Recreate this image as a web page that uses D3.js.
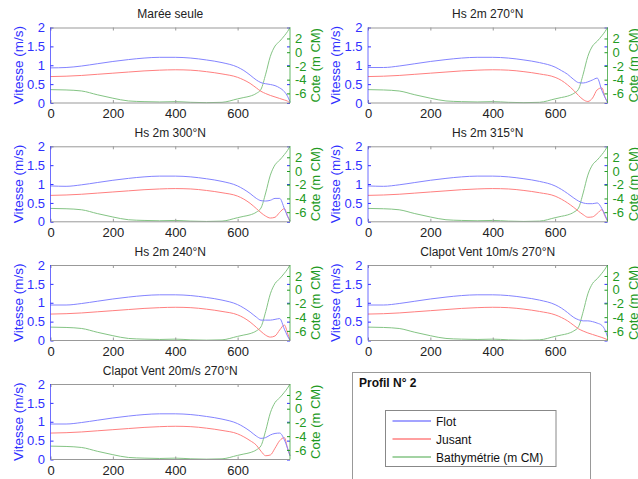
<!DOCTYPE html>
<html lang="fr">
<head>
<meta charset="utf-8">
<title>Profil N° 2</title>
<script src="https://d3js.org/d3.v7.min.js"></script>
<style>
  body { margin: 0; background: #fff; }
  text { font-family: "Liberation Sans", Arial, sans-serif; }
</style>
</head>
<body>
<script>
// distance along profile (m)
var dist = [0, 50, 100, 150, 200, 250, 300, 350, 400, 450, 500, 550, 600, 620, 640, 660, 675, 690, 705, 720, 735, 750, 760, 768];

// bathymetry (m CM), same for all panels
var bathy = [-5.45, -5.5, -5.65, -6.2, -6.7, -7.1, -7.2, -7.25, -7.2, -7.3, -7.35, -7.3, -6.8, -6.6, -6.4, -6.0, -5.4, -3.2, -0.6, 0.9, 1.6, 2.4, 3.0, 3.6];

var titles = ["Marée seule", "Hs 2m 270°N", "Hs 2m 300°N", "Hs 2m 315°N",
              "Hs 2m 240°N", "Clapot Vent 10m/s 270°N", "Clapot Vent 20m/s 270°N"];

// flot (flood) speeds, m/s
var flot1 = [0.93, 0.94, 0.98, 1.04, 1.10, 1.15, 1.19, 1.21, 1.21, 1.19, 1.14, 1.07, 0.95, 0.86, 0.74, 0.61, 0.54, 0.51, 0.49, 0.46, 0.40, 0.30, 0.18, 0.03];
var flot2 = [0.94, 0.94, 0.98, 1.04, 1.10, 1.15, 1.19, 1.21, 1.21, 1.19, 1.14, 1.07, 0.95, 0.86, 0.76, 0.62, 0.54, 0.53, 0.56, 0.61, 0.66, 0.33, 0.15, 0.02];
var flot3 = [0.95, 0.94, 0.98, 1.04, 1.10, 1.15, 1.19, 1.21, 1.21, 1.19, 1.14, 1.07, 0.95, 0.86, 0.75, 0.62, 0.56, 0.55, 0.57, 0.62, 0.62, 0.35, 0.15, 0.02];
var flot4 = [0.95, 0.94, 0.98, 1.04, 1.10, 1.15, 1.19, 1.21, 1.21, 1.19, 1.14, 1.07, 0.95, 0.86, 0.75, 0.63, 0.55, 0.50, 0.48, 0.48, 0.50, 0.35, 0.18, 0.03];
var flot5 = [0.94, 0.94, 0.98, 1.04, 1.10, 1.15, 1.19, 1.21, 1.21, 1.19, 1.14, 1.07, 0.95, 0.86, 0.75, 0.62, 0.54, 0.54, 0.54, 0.56, 0.58, 0.30, 0.12, 0.0];
var flot6 = [0.94, 0.94, 0.98, 1.04, 1.10, 1.15, 1.19, 1.21, 1.21, 1.19, 1.14, 1.07, 0.95, 0.86, 0.74, 0.61, 0.55, 0.52, 0.52, 0.50, 0.46, 0.40, 0.28, 0.10];
var flot7 = [0.94, 0.94, 0.98, 1.04, 1.10, 1.15, 1.19, 1.21, 1.21, 1.19, 1.14, 1.07, 0.95, 0.86, 0.75, 0.62, 0.56, 0.58, 0.65, 0.69, 0.70, 0.52, 0.30, 0.10];

// jusant (ebb) speeds, m/s
var jus1 = [0.70, 0.71, 0.73, 0.76, 0.79, 0.82, 0.85, 0.87, 0.88, 0.87, 0.83, 0.77, 0.68, 0.61, 0.52, 0.40, 0.31, 0.25, 0.20, 0.16, 0.12, 0.08, 0.05, 0.0];
var jus2 = [0.70, 0.71, 0.73, 0.76, 0.79, 0.82, 0.85, 0.87, 0.88, 0.87, 0.83, 0.77, 0.68, 0.60, 0.48, 0.33, 0.20, 0.09, 0.04, 0.13, 0.35, 0.40, 0.15, 0.02];
var jus3 = [0.70, 0.71, 0.73, 0.76, 0.79, 0.82, 0.85, 0.87, 0.88, 0.87, 0.83, 0.77, 0.68, 0.60, 0.49, 0.35, 0.24, 0.15, 0.10, 0.12, 0.25, 0.35, 0.15, 0.02];
var jus4 = [0.70, 0.71, 0.73, 0.76, 0.79, 0.82, 0.85, 0.87, 0.88, 0.87, 0.83, 0.77, 0.68, 0.60, 0.50, 0.38, 0.28, 0.19, 0.12, 0.13, 0.22, 0.32, 0.15, 0.02];
var jus5 = [0.70, 0.71, 0.73, 0.76, 0.79, 0.82, 0.85, 0.87, 0.88, 0.87, 0.83, 0.77, 0.68, 0.60, 0.49, 0.35, 0.24, 0.14, 0.09, 0.12, 0.28, 0.41, 0.20, 0.0];
var jus6 = [0.70, 0.71, 0.73, 0.76, 0.79, 0.82, 0.85, 0.87, 0.88, 0.87, 0.83, 0.77, 0.68, 0.61, 0.52, 0.40, 0.31, 0.25, 0.20, 0.16, 0.12, 0.08, 0.05, 0.02];
var jus7 = [0.70, 0.71, 0.73, 0.76, 0.79, 0.82, 0.85, 0.87, 0.88, 0.87, 0.83, 0.77, 0.68, 0.60, 0.50, 0.38, 0.22, 0.10, 0.12, 0.30, 0.50, 0.58, 0.30, 0.10];

var flots = [flot1, flot2, flot3, flot4, flot5, flot6, flot7];
var jusants = [jus1, jus2, jus3, jus4, jus5, jus6, jus7];

var xTicks = [0, 200, 400, 600];
var vTicks = [0, 0.5, 1, 1.5, 2];
var cTicks = [-6, -4, -2, 0, 2];
var legendNames = ["Flot", "Jusant", "Bathymétrie (m CM)"];

var width = 638, height = 479;
var colLeft = [50.5, 368];
var rowTop = [27.5, 146.3, 265, 384];
var pw = 239.5, ph = 75.5;

var blueText = "#3030ff", greenText = "#239a23";
var lineColors = ["#8484ff", "#ff8080", "#84c484"];
var plain = function(d) { return String(d); };

var svg = d3.select("body").append("svg")
    .attr("width", width)
    .attr("height", height);

var x = d3.scaleLinear().domain([0, 768]).range([0, pw]);
var yV = d3.scaleLinear().domain([0, 2]).range([ph, 0]);
var yC = d3.scaleLinear().domain([-7.4, 3.6]).range([ph, 0]);

titles.forEach(function(title, i) {
    var g = svg.append("g")
        .attr("transform", "translate(" + colLeft[i % 2] + "," + rowTop[Math.floor(i / 2)] + ")");

    var lineV = d3.line()
        .x(function(d, k) { return x(dist[k]); })
        .y(function(d) { return yV(d); })
        .curve(d3.curveMonotoneX);
    var lineC = d3.line()
        .x(function(d, k) { return x(dist[k]); })
        .y(function(d) { return yC(d); })
        .curve(d3.curveMonotoneX);

    g.append("path").attr("d", lineC(bathy))
        .attr("fill", "none").attr("stroke", lineColors[2]).attr("stroke-width", 1);
    g.append("path").attr("d", lineV(jusants[i]))
        .attr("fill", "none").attr("stroke", lineColors[1]).attr("stroke-width", 1);
    g.append("path").attr("d", lineV(flots[i]))
        .attr("fill", "none").attr("stroke", lineColors[0]).attr("stroke-width", 1);

    // x axis, ticks inward
    var xa = g.append("g").attr("transform", "translate(0," + ph + ")")
        .call(d3.axisBottom(x).tickValues(xTicks).tickFormat(plain).tickSize(-3).tickPadding(6));
    xa.select(".domain").remove();
    xa.selectAll("line").attr("stroke", "#999");
    xa.selectAll("text").attr("fill", "#222").style("font-size", "13px");

    var xt = g.append("g")
        .call(d3.axisTop(x).tickValues(xTicks).tickSize(-3).tickFormat(""));
    xt.select(".domain").remove();
    xt.selectAll("line").attr("stroke", "#999");

    // left axis (vitesse)
    var ya = g.append("g")
        .call(d3.axisLeft(yV).tickValues(vTicks).tickFormat(plain).tickSize(-3).tickPadding(5.5));
    ya.select(".domain").remove();
    ya.selectAll("line").attr("stroke", blueText);
    ya.selectAll("text").attr("fill", blueText).style("font-size", "13px");

    var yam = g.append("g").attr("transform", "translate(" + pw + ",0)")
        .call(d3.axisRight(yV).tickValues(vTicks).tickSize(-3).tickFormat(""));
    yam.select(".domain").remove();
    yam.selectAll("line").attr("stroke", blueText);

    // right axis (cote)
    var yc = g.append("g").attr("transform", "translate(" + pw + ",0)")
        .call(d3.axisRight(yC).tickValues(cTicks).tickFormat(plain).tickSize(-3).tickPadding(5));
    yc.select(".domain").remove();
    yc.selectAll("line").attr("stroke", greenText);
    yc.selectAll("text").attr("fill", greenText).style("font-size", "13px");

    // frame
    g.append("line").attr("x1", 0).attr("x2", pw).attr("y1", 0.5).attr("y2", 0.5).attr("stroke", "#999");
    g.append("line").attr("x1", 0).attr("x2", pw).attr("y1", ph).attr("y2", ph).attr("stroke", "#999");
    g.append("line").attr("x1", 0).attr("x2", 0).attr("y1", 0).attr("y2", ph).attr("stroke", blueText).attr("stroke-opacity", 0.7);
    g.append("line").attr("x1", pw).attr("x2", pw).attr("y1", 0).attr("y2", ph).attr("stroke", greenText).attr("stroke-opacity", 0.7);

    g.append("text").attr("x", pw / 2).attr("y", -9.5)
        .attr("text-anchor", "middle").attr("fill", "#222").style("font-size", "12px")
        .text(title);

    g.append("text")
        .attr("transform", "translate(-28," + (ph / 2) + ") rotate(-90)")
        .attr("text-anchor", "middle").attr("fill", blueText).style("font-size", "13.5px")
        .text("Vitesse (m/s)");
    g.append("text")
        .attr("transform", "translate(" + (pw + 30) + "," + (ph / 2) + ") rotate(-90)")
        .attr("text-anchor", "middle").attr("fill", greenText).style("font-size", "13px")
        .text("Cote (m CM)");
});

// legend panel
var lg = svg.append("g");
lg.append("rect").attr("x", 352.5).attr("y", 372.5).attr("width", 238).attr("height", 120)
    .attr("fill", "#fff").attr("stroke", "#999");
lg.append("text").attr("x", 359).attr("y", 387)
    .attr("font-weight", "bold").attr("fill", "#111").style("font-size", "12px")
    .text("Profil N° 2");
lg.append("rect").attr("x", 385.5).attr("y", 410.5).attr("width", 170.5).attr("height", 56)
    .attr("fill", "#fff").attr("stroke", "#888");
legendNames.forEach(function(name, k) {
    var yy = 421 + k * 18;
    lg.append("path")
        .attr("d", d3.line()([[392.5, yy], [431, yy]]))
        .style("fill", "none")
        .style("stroke", lineColors[k])
        .style("stroke-width", "1.5px");
    lg.append("text").attr("x", 436).attr("y", yy + 4.5)
        .attr("fill", "#111").style("font-size", "12px")
        .text(name);
});
</script>
</body>
</html>
